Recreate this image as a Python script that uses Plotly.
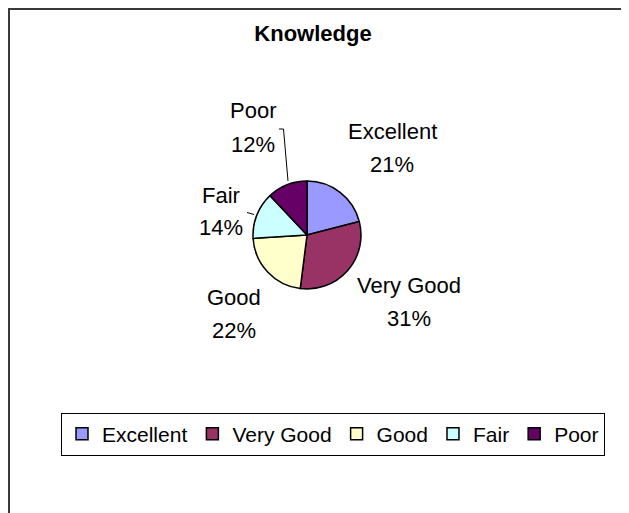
"""
plot.py

* Recreates the "Knowledge" pie chart
"""

import plotly.graph_objects as go

# Chart data
categories = ["Excellent", "Very Good", "Good", "Fair", "Poor"]
shares = [21, 31, 22, 14, 12]
slice_colors = ["#9999FF", "#993366", "#FFFFCC", "#CCFFFF", "#660066"]

# The page body has an 8px margin, so the figure starts at (8, 8)
W, H = 629, 513
OFFSET = 8
FW, FH = W - OFFSET, H - OFFSET
font_name = "Liberation Sans, Arial, sans-serif"

# Pie position in window pixels
cx, cy, r = 307, 235, 54

# Label positions (window pixels, centre of the name line) for each slice
label_xy = [(392, 131), (409, 285), (234, 297), (221, 195), (253, 111)]
line_gap = 33


def px_x(x):
    return (x - OFFSET) / FW


def px_y(y):
    return 1 - (y - OFFSET) / FH


# Create the pie
fig = go.Figure()
fig.add_trace(go.Pie(labels = categories,
                     values = shares,
                     sort = False,
                     direction = "clockwise",
                     marker = dict(colors = slice_colors,
                                   line = dict(color = "black", width = 1.5)),
                     textinfo = "none",
                     domain = dict(x = [px_x(cx - r), px_x(cx + r)],
                                   y = [px_y(cy + r), px_y(cy - r)]),
                     hoverinfo = "label+percent"))

# Slice labels: name and percentage
total = sum(shares)
for cat, share, (lx, ly) in zip(categories, shares, label_xy):
    for text, y in [(cat, ly), (f"{round(100 * share / total)}%", ly + line_gap)]:
        fig.add_annotation(text = text, xref = "paper", yref = "paper",
                           x = px_x(lx), y = px_y(y),
                           xanchor = "center", yanchor = "middle",
                           showarrow = False,
                           font = dict(family = font_name, size = 22, color = "black"))

# Leader lines for Poor and Fair
fig.add_shape(type = "path", xref = "paper", yref = "paper",
              path = f"M {px_x(279)},{px_y(129)} L {px_x(283.5)},{px_y(129)} L {px_x(288)},{px_y(181)}",
              line = dict(color = "black", width = 1))
fig.add_shape(type = "path", xref = "paper", yref = "paper",
              path = f"M {px_x(247)},{px_y(212.5)} L {px_x(254)},{px_y(214.5)}",
              line = dict(color = "black", width = 1))

# Outer frame (sits right at the figure's top-left corner)
fig.add_shape(type = "rect", xref = "paper", yref = "paper",
              x0 = 1 / FW, x1 = 1.02, y0 = -0.02, y1 = 1 - 1 / FH,
              line = dict(color = "#3a3a3a", width = 2))

# Update the layout
fig.update_layout(width = FW, height = FH,
                  margin = dict(l = 0, r = 0, t = 0, b = 0),
                  paper_bgcolor = "white",
                  plot_bgcolor = "white",
                  font = dict(family = font_name, size = 22, color = "black"),
                  title = dict(text = "<b>Knowledge</b>",
                               x = px_x(313), xanchor = "center",
                               y = px_y(33), yanchor = "middle",
                               font = dict(family = font_name, size = 22)),
                  showlegend = True,
                  legend = dict(orientation = "h",
                                x = px_x(333), xanchor = "center",
                                y = px_y(434), yanchor = "middle",
                                bordercolor = "black", borderwidth = 1,
                                bgcolor = "white",
                                font = dict(family = font_name, size = 21),
                                traceorder = "normal"))

fig.write_html("out.html")
